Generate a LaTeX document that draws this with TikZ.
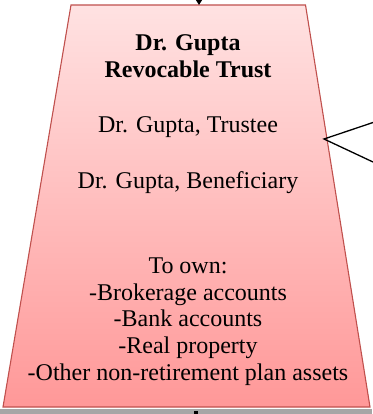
\documentclass[tikz,border=0pt]{standalone}
\usepackage{fontspec}
\setmainfont{Liberation Serif}
\usetikzlibrary{arrows.meta}
\definecolor{trustedge}{HTML}{C0504D}
\definecolor{trusttop}{RGB}{255,226,226}
\definecolor{trustbot}{RGB}{255,152,152}
\definecolor{baseband}{HTML}{A6A6A6}
\tikzset{
  trustbox/.style={draw=trustedge, line width=1.1pt, top color=trusttop, bottom color=trustbot},
  line/.style={anchor=base, font=\fontsize{24}{26}\selectfont, inner sep=0pt},
  headline/.style={line, font=\fontsize{24}{26}\selectfont\bfseries},
  pointer/.style={draw=black, line width=1.3pt},
}
\begin{document}
\begin{tikzpicture}[x=1pt,y=-1pt]
  \useasboundingbox (0,0) rectangle (372,414);
  % grey strip along the bottom
  \fill[baseband] (0,409) rectangle (372,414);
  % trust box (trapezoid)
  \path[trustbox] (71,5) -- (305.5,5) -- (370,407) -- (3,407) -- cycle;
  % incoming arrow from above
  \coordinate (inA) at (199,-12);
  \coordinate (inB) at (199,5);
  \draw[line width=1.3pt, -{Triangle[length=5.5pt,width=6.5pt]}] (inA) -- (inB);
  % outgoing arrow stub below
  \coordinate (outA) at (196,409.5);
  \coordinate (outB) at (196,420);
  \fill (194,411) -- (198,411) -- (198,414) -- (194,414) -- cycle;
  % callout pointer on the right
  \coordinate (wtip) at (324,139);
  \coordinate (wa) at (373,122.5);
  \coordinate (wb) at (373,162);
  \draw[pointer] (wa) -- (wtip) -- (wb);
  % texts
  \node[headline] (name) at (188,50.5) {Dr. Gupta};
  \node[headline] (kind) at (188,77.5) {Revocable Trust};
  \node[line] (trustee) at (188,132) {Dr. Gupta, Trustee};
  \node[line] (benef) at (188,188) {Dr. Gupta, Beneficiary};
  \node[line] (own) at (188,273) {To own:};
  \node[line] (a1) at (188,300) {-Brokerage accounts};
  \node[line] (a2) at (188,326.5) {-Bank accounts};
  \node[line] (a3) at (188,353) {-Real property};
  \node[line] (a4) at (188,380) {-Other non-retirement plan assets};
\end{tikzpicture}
\end{document}
